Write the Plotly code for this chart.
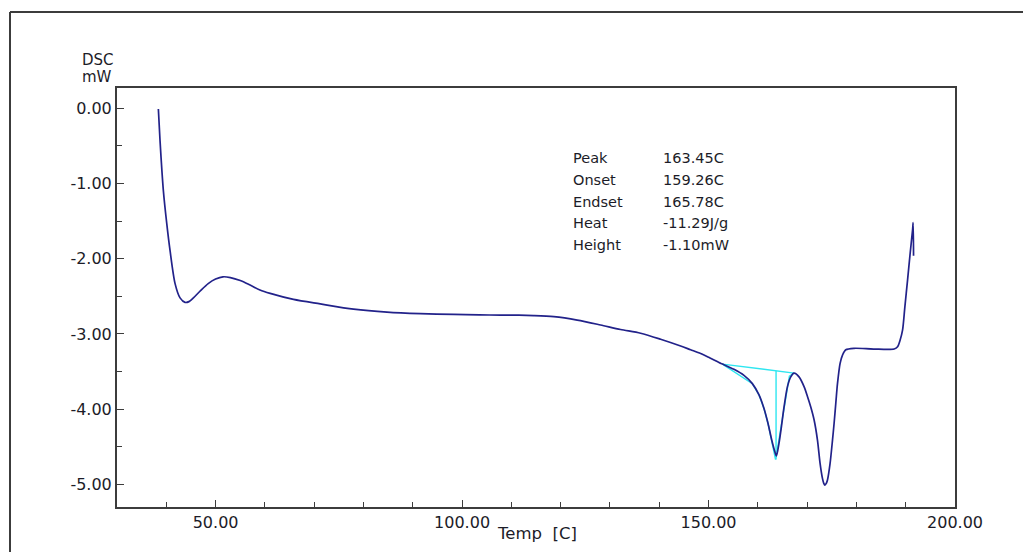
import plotly.graph_objects as go

# DSC curve (temperature in C, heat flow in mW)
temp = [38.39, 38.73, 39.40, 40.09, 40.76, 41.78, 42.79, 43.81, 44.6, 45.5, 47.0, 48.5,
        50.0, 51.5, 53.0, 55.0, 57.0, 59.0, 61.07, 65.80, 71.23, 77.99, 84.77, 91.54,
        98.30, 103.5, 107.78, 111.5, 114.55, 118.61, 123.36, 128.09, 132.15, 136.22,
        140.28, 144.34, 146.37, 148.40, 150.3, 152.12, 152.81, 155.16, 157.19, 158.89,
        160.24, 161.25, 162.07, 162.82, 163.43, 163.77, 164.30, 164.79, 165.32, 166.01,
        166.68, 167.35, 168.36, 169.38, 170.07, 170.74, 171.41, 172.10, 172.63, 173.11,
        173.35, 173.58, 173.85, 174.13, 174.66, 175.15, 175.47, 175.82, 176.16, 176.69,
        177.18, 177.85, 179.53, 183.5, 187.66, 188.35, 188.87, 189.36, 189.83, 190.38,
        190.90, 191.39, 191.51, 191.59]
dsc = [-0.01, -0.43, -1.09, -1.53, -1.89, -2.33, -2.52, -2.58, -2.57, -2.52, -2.42, -2.33,
       -2.27, -2.24, -2.25, -2.29, -2.35, -2.415, -2.46, -2.54, -2.60, -2.67, -2.71, -2.73,
       -2.74, -2.745, -2.75, -2.75, -2.755, -2.77, -2.815, -2.88, -2.94, -2.99,
       -3.07, -3.16, -3.21, -3.26, -3.32, -3.38, -3.40, -3.47, -3.55, -3.66,
       -3.81, -3.99, -4.19, -4.41, -4.56, -4.62, -4.45, -4.23, -3.97, -3.70,
       -3.57, -3.52, -3.57, -3.70, -3.83, -3.97, -4.14, -4.41, -4.72, -4.92,
       -4.98, -5.01, -4.99, -4.94, -4.72, -4.41, -4.19, -3.92, -3.66, -3.39,
       -3.28, -3.21, -3.19, -3.20, -3.20, -3.17, -3.08, -2.95, -2.64, -2.28,
       -1.93, -1.62, -1.52, -1.96]

# Peak analysis construction lines
base_t = [152.81, 167.35]
base_y = [-3.40, -3.52]
left_t = [152.81, 158.4, 158.89, 160.24, 161.25, 162.07, 162.82, 163.6]
left_y = [-3.40, -3.63, -3.66, -3.81, -3.99, -4.19, -4.41, -4.67]
vert_t = [163.7, 163.7]
vert_y = [-3.49, -4.67]
right_t = [163.7, 166.4, 167.35]
right_y = [-4.64, -3.56, -3.52]

labels = ["Peak", "Onset", "Endset", "Heat", "Height"]
values = ["163.45C", "159.26C", "165.78C", "-11.29J/g", "-1.10mW"]

xticks = [50, 100, 150, 200]
yticks = [0, -1, -2, -3, -4, -5]

font_family = "DejaVu Sans, Verdana, sans-serif"
txt_col = "#1c1c28"
axis_col = "#3c3c3c"

fig = go.Figure()
cyan = "#2ee6f0"
for tx, ty in [(base_t, base_y), (left_t, left_y), (vert_t, vert_y), (right_t, right_y)]:
    fig.add_trace(go.Scatter(x=tx, y=ty, mode="lines", line=dict(color=cyan, width=1.4),
                             hoverinfo="skip", showlegend=False))
fig.add_trace(go.Scatter(x=temp, y=dsc, mode="lines",
                         line=dict(color="#22228a", width=1.7, shape="spline", smoothing=0.8),
                         showlegend=False))

fig.update_layout(
    width=1023, height=552,
    margin=dict(l=117, r=68, t=88, b=45),
    paper_bgcolor="white", plot_bgcolor="white",
    font=dict(family=font_family, color=txt_col, size=16),
    showlegend=False,
)
fig.update_xaxes(
    range=[30, 200], tickvals=xticks, ticktext=[f"{v:.2f}" for v in xticks],
    ticks="inside", ticklen=7, tickwidth=1.3, tickcolor=axis_col,
    minor=dict(dtick=10, tick0=0, ticks="inside", ticklen=5, tickwidth=1.3, tickcolor=axis_col),
    showgrid=False, zeroline=False, showline=True, linecolor=axis_col, linewidth=2, mirror=True,
    tickfont=dict(size=16, color=txt_col),
)
fig.update_yaxes(
    range=[-5.3, 0.27], tickvals=yticks, ticktext=[f"{v:.2f}" for v in yticks],
    ticks="inside", ticklen=7, tickwidth=1.3, tickcolor=axis_col,
    minor=dict(dtick=0.5, tick0=0, ticks="inside", ticklen=5, tickwidth=1.3, tickcolor=axis_col),
    showgrid=False, zeroline=False, showline=True, linecolor=axis_col, linewidth=2, mirror=True,
    tickfont=dict(size=16, color=txt_col),
)

# Axis titles as annotations
for txt, ypx in [("DSC", 60), ("mW", 77)]:
    fig.add_annotation(text=txt, xref="paper", yref="paper", x=(81 - 117) / 838,
                       y=(507 - ypx) / 419, xanchor="left", yanchor="middle",
                       showarrow=False, borderpad=0, font=dict(size=15, color=txt_col))
fig.add_annotation(text="Temp&nbsp;&nbsp;[C]", xref="paper", yref="paper", x=(537 - 117) / 838,
                   y=(507 - 533) / 419, xanchor="center", yanchor="middle",
                   showarrow=False, font=dict(size=16.5, color=txt_col))

# Peak info table
for i, (lab, val) in enumerate(zip(labels, values)):
    ypx = 158 + i * 21.8
    yp = (507 - ypx) / 419
    fig.add_annotation(text=lab, xref="paper", yref="paper", x=(571 - 117) / 838, y=yp,
                       xanchor="left", yanchor="middle", showarrow=False,
                       font=dict(size=14.5, color=txt_col))
    fig.add_annotation(text=val, xref="paper", yref="paper", x=(661 - 117) / 838, y=yp,
                       xanchor="left", yanchor="middle", showarrow=False,
                       font=dict(size=14.5, color=txt_col))

# Outer frame (top and left edges)
x0 = (10 - 117) / 838
y0 = (507 - 12) / 419
fig.add_shape(type="line", xref="paper", yref="paper", x0=x0, x1=1.2, y0=y0, y1=y0,
              line=dict(color=axis_col, width=2))
fig.add_shape(type="line", xref="paper", yref="paper", x0=x0, x1=x0, y0=y0, y1=-0.2,
              line=dict(color=axis_col, width=2))

fig.write_html("out.html")
